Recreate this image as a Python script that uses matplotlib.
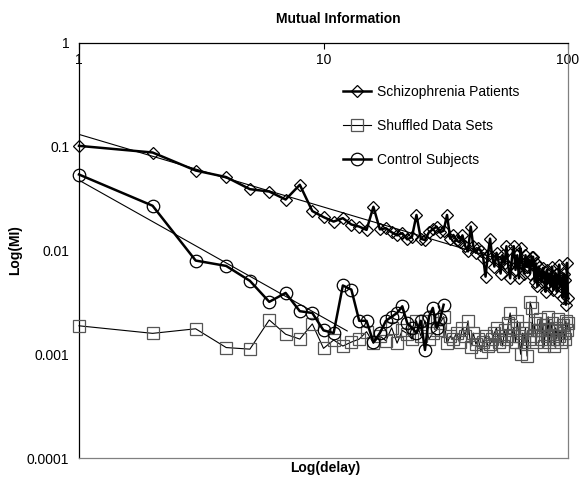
import numpy as np
import matplotlib
matplotlib.use("Agg")
import matplotlib.pyplot as plt
from matplotlib.lines import Line2D

plt.rcParams['font.family'] = ['Liberation Sans', 'DejaVu Sans']

title = "Mutual Information"
xlabel = "Log(delay)"
ylabel = "Log(MI)"
series_names = ["Schizophrenia Patients", "Shuffled Data Sets", "Control Subjects"]
y_ticks = [1, 0.1, 0.01, 0.001, 0.0001]
y_ticklabels = ["1", "0.1", "0.01", "0.001", "0.0001"]
x_ticks = [1, 10, 100]
x_ticklabels = ["1", "10", "100"]

delay = np.arange(1, 101)

schizophrenia = [
    0.102, 0.088, 0.059, 0.051, 0.039, 0.037, 0.031, 0.043, 0.024, 0.021,
    0.019, 0.0205, 0.0178, 0.017, 0.0158, 0.0264, 0.016, 0.0164, 0.015, 0.014,
    0.0147, 0.0128, 0.0135, 0.022, 0.013, 0.0126, 0.015, 0.016, 0.017, 0.015,
    0.0155, 0.022, 0.013, 0.0141, 0.0125, 0.012, 0.014, 0.011, 0.0098, 0.017,
    0.011, 0.0095, 0.0105, 0.010, 0.0085, 0.0056, 0.009, 0.013, 0.0087, 0.007,
    0.0095, 0.0078, 0.006, 0.009, 0.0075, 0.011, 0.007, 0.0054, 0.0085, 0.011,
    0.0065, 0.009, 0.0054, 0.0105, 0.0075, 0.006, 0.009, 0.007, 0.008, 0.006,
    0.0087, 0.0087, 0.005, 0.0075, 0.0045, 0.007, 0.006, 0.005, 0.0068, 0.0055,
    0.004, 0.0065, 0.005, 0.006, 0.0045, 0.007, 0.0042, 0.0055, 0.006, 0.004,
    0.005, 0.0073, 0.0045, 0.0055, 0.0035, 0.006, 0.0052, 0.003, 0.0076, 0.0035,
]

shuffled = [
    0.00188, 0.00159, 0.00176, 0.00116, 0.00112, 0.00214, 0.00156, 0.00140, 0.00196, 0.00114,
    0.00137, 0.00120, 0.00131, 0.00140, 0.00165, 0.00128, 0.00150, 0.00135, 0.00180, 0.00128,
    0.00170, 0.00158, 0.00140, 0.00210, 0.00150, 0.00210, 0.00140, 0.00160, 0.00171, 0.00200,
    0.00230, 0.00128, 0.00150, 0.00140, 0.00160, 0.00130, 0.00180, 0.00150, 0.00210, 0.00118,
    0.00160, 0.00125, 0.00140, 0.00106, 0.00130, 0.00150, 0.00120, 0.00125, 0.00140, 0.00160,
    0.00180, 0.00130, 0.00150, 0.00120, 0.00170, 0.00140, 0.00200, 0.00250, 0.00150, 0.00180,
    0.00130, 0.00210, 0.00150, 0.00100, 0.00160, 0.00130, 0.00180, 0.00096, 0.00140, 0.00320,
    0.00280, 0.00150, 0.00200, 0.00130, 0.00170, 0.00170, 0.00220, 0.00140, 0.00190, 0.00120,
    0.00190, 0.00150, 0.00230, 0.00130, 0.00170, 0.00200, 0.00140, 0.00120, 0.00180, 0.00140,
    0.00220, 0.00150, 0.00170, 0.00130, 0.00190, 0.00160, 0.00140, 0.00210, 0.00170, 0.00200,
]

control_delay = np.arange(1, 32)
control = [
    0.054, 0.027, 0.0080, 0.0071, 0.0051, 0.0032, 0.0039, 0.0026, 0.0025, 0.0017,
    0.0016, 0.0046, 0.0042, 0.0021, 0.0021, 0.0013, 0.0016, 0.0021, 0.0023, 0.0025,
    0.0029, 0.0020, 0.0018, 0.0016, 0.0021, 0.0011, 0.0023, 0.0028, 0.0018, 0.0022,
    0.0030,
]
control_fit_points = 12   # power trend fitted on the first points of the control series

W, H = 580, 478
fig = plt.figure(figsize=(W / 100, H / 100), dpi=100)
ax = fig.add_axes([79 / W, 1 - 458 / H, (568 - 79) / W, (458 - 43) / H])

# power-law trend lines (least squares in log-log space)
def power_fit(x, y):
    b, a = np.polyfit(np.log10(x), np.log10(y), 1)
    return lambda t: 10 ** (a + b * np.log10(t))

fs = power_fit(delay, schizophrenia)
ts = np.array([1, 100])
ax.plot(ts, fs(ts), color='black', lw=0.8, zorder=2)

fc = power_fit(control_delay[:control_fit_points], control[:control_fit_points])
tc = np.array([1, control_fit_points + 0.5])
ax.plot(tc, fc(tc), color='black', lw=0.8, zorder=2)

ax.plot(delay, shuffled, color='black', lw=0.8, marker='s', ms=8,
        mfc='none', mec='#555555', mew=0.9, zorder=3, clip_on=False)
ax.plot(control_delay, control, color='black', lw=1.8, marker='o', ms=9,
        mfc='none', mec='black', mew=0.9, zorder=4, clip_on=False)
ax.plot(delay, schizophrenia, color='black', lw=1.8, marker='D', ms=6.5,
        mfc='none', mec='black', mew=0.9, zorder=5, clip_on=False)

ax.set_xscale('log')
ax.set_yscale('log')
ax.set_xlim(1, 100)
ax.set_ylim(0.0001, 1)

ax.set_yticks(y_ticks)
ax.set_yticklabels(y_ticklabels)
ax.yaxis.set_minor_locator(matplotlib.ticker.NullLocator())
ax.set_xticks(x_ticks)
ax.set_xticklabels(x_ticklabels)
ax.xaxis.set_minor_locator(matplotlib.ticker.NullLocator())
ax.tick_params(axis='y', which='major', length=0, pad=7, labelsize=10)
ax.tick_params(axis='x', which='major', direction='in', length=4, top=True,
               bottom=False, labeltop=True, labelbottom=False, pad=-17, labelsize=10)

for s in ['left', 'top']:
    ax.spines[s].set_color('black')
    ax.spines[s].set_linewidth(0.9)
for s in ['right', 'bottom']:
    ax.spines[s].set_color('#808080')
    ax.spines[s].set_linewidth(0.9)

fig.text(338 / W, 1 - 19 / H, title, ha='center', va='center', fontsize=10, fontweight='bold')
fig.text(325 / W, 1 - 468 / H, xlabel, ha='center', va='center', fontsize=10, fontweight='bold')
fig.text(15 / W, 1 - 250 / H, ylabel, ha='center', va='center', fontsize=10,
         fontweight='bold', rotation=90)

handles = [
    Line2D([], [], color='black', lw=1.8, marker='D', ms=6.5, mfc='none', mec='black', mew=0.9),
    Line2D([], [], color='black', lw=0.8, marker='s', ms=8, mfc='none', mec='#555555', mew=0.9),
    Line2D([], [], color='black', lw=1.8, marker='o', ms=9, mfc='none', mec='black', mew=0.9),
]
fig.legend(handles, series_names, loc='upper left', bbox_to_anchor=(343 / W, 1 - 85 / H),
           frameon=False, fontsize=10, labelspacing=1.45, handlelength=2.0,
           handletextpad=0.45, borderpad=0, borderaxespad=0)

fig.savefig('out.png', dpi=100)
